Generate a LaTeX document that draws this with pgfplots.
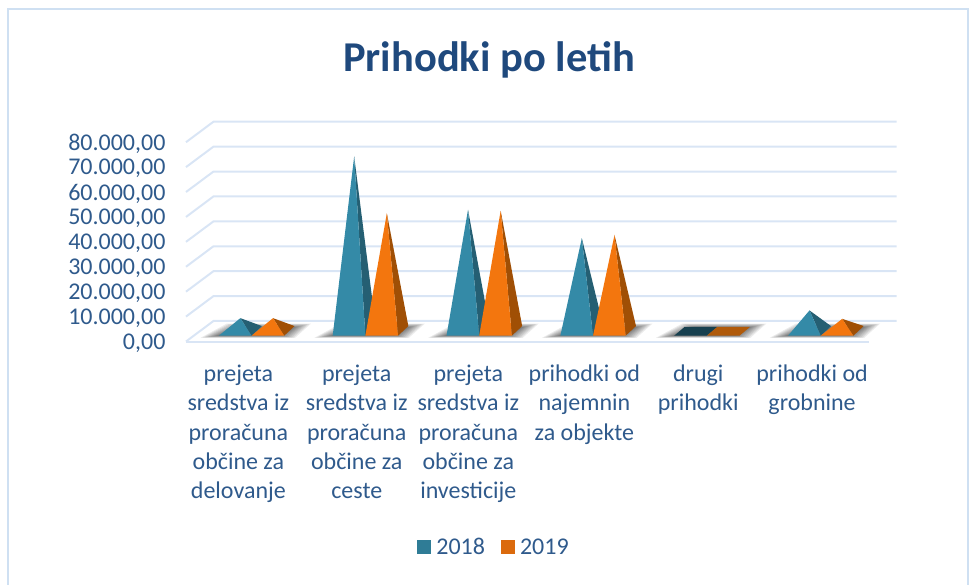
\documentclass[border=0pt]{standalone}
\usepackage{fontspec}
\setmainfont{Carlito}
\usepackage{pgfplots}
\usepackage{pgfplotstable}
\pgfplotsset{compat=1.18}
\definecolor{txt}{HTML}{2F5A8C}
\definecolor{titlec}{HTML}{1F497D}
\definecolor{gridc}{HTML}{D9E5F5}
\definecolor{framec}{HTML}{CFE0F2}
\definecolor{tealf}{HTML}{348AA7}
\definecolor{teals}{HTML}{255F73}
\definecolor{tealt}{HTML}{17404F}
\definecolor{orgf}{HTML}{F3760E}
\definecolor{orgs}{HTML}{A04F05}
\definecolor{orgt}{HTML}{B05A0A}

% value of each pyramid
\pgfplotstableread{
cat v2018 v2019
1 4900 4900
2 69800 47000
3 48400 48000
4 37000 38300
5 0 0
6 8000 4600
}\prihodki

% front-left x, value, front, side, flat colour
\newcommand{\pyramid}[5]{%
  \edef\fl{\fpeval{#1}}%
  \edef\fr{\fpeval{#1+0.287}}%
  \edef\br{\fpeval{#1+0.287+0.0905}}%
  \edef\bl{\fpeval{#1+0.0905}}%
  \edef\ax{\fpeval{#1+0.1435+0.0452}}%
  \edef\ay{\fpeval{4478+#2}}%
  \ifnum\fpeval{#2<1}=1
    \edef\tmp{\noexpand\addplot[fill=#5,draw=none,forget plot] coordinates
      {(\fl,2329) (\fr,2329) (\br,5823) (\bl,5823) (\fl,2329)};}\tmp
  \else
    \edef\tmp{\noexpand\addplot[fill=#4,draw=none,forget plot] coordinates
      {(\fr,2329) (\br,6200) (\ax,\ay) (\fr,2329)};}\tmp
    \edef\tmp{\noexpand\addplot[fill=#3,draw=none,forget plot] coordinates
      {(\fl,2329) (\fr,2329) (\ax,\ay) (\fl,2329)};}\tmp
  \fi
}

% blurry floor shadow, built from stacked layers
\newcommand{\floorshadow}[1]{%
  \pgfplotsforeachungrouped \k in {0,...,9}{%
    \edef\xa{\fpeval{#1-0.2113-0.16+\k*0.017}}%
    \edef\xb{\fpeval{#1-0.2113+0.07+\k*0.015}}%
    \edef\xc{\fpeval{#1-0.2113+0.81-\k*0.017}}%
    \edef\xd{\fpeval{#1-0.2113+0.67-\k*0.015}}%
    \edef\ya{\fpeval{1500+\k*90}}%
    \edef\yb{\fpeval{7200-\k*180}}%
    \edef\tmp{\noexpand\addplot[fill=black,fill opacity=0.075,draw=none,forget plot] coordinates
      {(\xa,\ya) (\xb,\yb) (\xc,\yb) (\xd,\ya) (\xa,\ya)};}\tmp
  }%
}

\begin{document}
\begin{tikzpicture}[x=1pt,y=1pt]
\begin{axis}[
    at={(0,0)},anchor=south west,
    scale only axis,
    width=683pt,height=199.3pt,
    xmin=0.5,xmax=6.5,
    ymin=0,ymax=80000,
    clip=false,
    axis line style={draw=none},
    major tick length=0pt,
    xtick={0.96,2,2.98,4,5,6},
    xticklabels={
      {prejeta\\sredstva iz\\proračuna\\občine za\\delovanje},
      {prejeta\\sredstva iz\\proračuna\\občine za\\ceste},
      {prejeta\\sredstva iz\\proračuna\\občine za\\investicije},
      {prihodki od\\najemnin\\za objekte},
      {drugi\\prihodki},
      {prihodki od\\grobnine}},
    xticklabel style={align=center,anchor=north,yshift=-20pt,text=txt,
      font=\fontsize{24}{29.3}\selectfont},
    ytick={0,10000,20000,30000,40000,50000,60000,70000,80000},
    scaled y ticks=false,
    yticklabel style={text=txt,font=\fontsize{24}{24}\selectfont,xshift=-17pt,yshift=-1.5pt,
      /pgf/number format/.cd,fixed,fixed zerofill,precision=2,use comma,
      1000 sep={.},assume math mode=true},
    title={Prihodki po letih},
    title style={at={(rel axis cs:0.4436,1.383)},anchor=center,text=titlec,
      font=\fontsize{42.5}{42.5}\selectfont\bfseries},
    legend columns=2,
    legend style={at={(rel axis cs:0.451,-1.031)},anchor=center,draw=none,fill=none,
      text=txt,font=\fontsize{24}{24}\selectfont,
      /tikz/every even column/.append style={column sep=14pt}},
]
% floor and back wall
\addplot[gridc,line width=2pt,forget plot] coordinates {(0.5,0) (6.5,0)};
\addplot[gridc,line width=2pt,forget plot] coordinates {(0.5,0) (0.7416,8233) (6.7433,8233)};
\addplot[gridc,line width=2pt,forget plot] coordinates {(0.5,10000) (0.7416,18233) (6.7433,18233)};
\addplot[gridc,line width=2pt,forget plot] coordinates {(0.5,20000) (0.7416,28233) (6.7433,28233)};
\addplot[gridc,line width=2pt,forget plot] coordinates {(0.5,30000) (0.7416,38233) (6.7433,38233)};
\addplot[gridc,line width=2pt,forget plot] coordinates {(0.5,40000) (0.7416,48233) (6.7433,48233)};
\addplot[gridc,line width=2pt,forget plot] coordinates {(0.5,50000) (0.7416,58233) (6.7433,58233)};
\addplot[gridc,line width=2pt,forget plot] coordinates {(0.5,60000) (0.7416,68233) (6.7433,68233)};
\addplot[gridc,line width=2pt,forget plot] coordinates {(0.5,70000) (0.7416,78233) (6.7433,78233)};
\addplot[gridc,line width=2pt,forget plot] coordinates {(0.5,80000) (0.7416,88233) (6.7433,88233)};

\pgfplotsforeachungrouped \r in {0,...,5}{%
  \pgfplotstablegetelem{\r}{cat}\of\prihodki \edef\c{\pgfplotsretval}%
  \floorshadow{\c}%
}
\pgfplotsforeachungrouped \r in {0,...,5}{%
  \pgfplotstablegetelem{\r}{cat}\of\prihodki \edef\c{\pgfplotsretval}%
  \pgfplotstablegetelem{\r}{v2018}\of\prihodki \edef\va{\pgfplotsretval}%
  \pgfplotstablegetelem{\r}{v2019}\of\prihodki \edef\vb{\pgfplotsretval}%
  \pyramid{\c-0.2113}{\va}{tealf}{teals}{tealt}%
  \pyramid{\c+0.0757}{\vb}{orgf}{orgs}{orgt}%
}

\addlegendimage{legend image code/.code={\path[draw=none,fill=tealf!90!black] (0pt,-7pt) rectangle (14pt,7pt);\path[draw=none] (0pt,0pt) -- (17pt,0pt);}}
\addlegendentry{2018}
\addlegendimage{legend image code/.code={\path[draw=none,fill=orgf!90!black] (0pt,-7pt) rectangle (14pt,7pt);\path[draw=none] (0pt,0pt) -- (17pt,0pt);}}
\addlegendentry{2019}
\end{axis}
% chart area border, open at the bottom of the crop
\draw[framec,line width=2pt] (-178,-243.5) -- (-178,332) -- (782,332) -- (782,-243.5);
\useasboundingbox (-186,-243.5) rectangle (784,341.5);
\end{tikzpicture}
\end{document}
